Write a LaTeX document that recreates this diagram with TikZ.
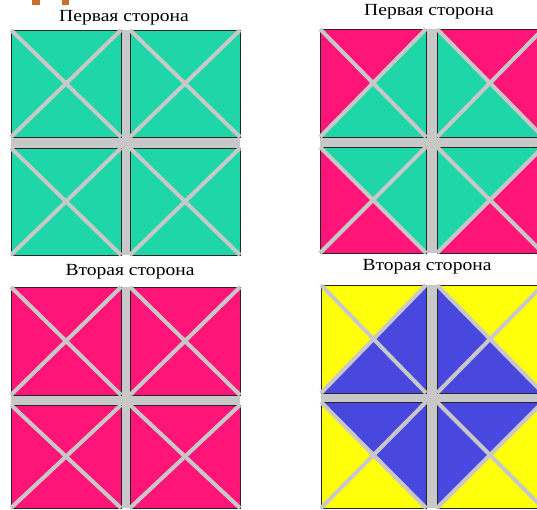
\documentclass[tikz,border=0pt]{standalone}
\usepackage{fontspec}
\setmainfont{Liberation Serif}
\usetikzlibrary{calc}
\definecolor{greenc}{RGB}{30,214,168}
\definecolor{pinkc}{RGB}{255,20,120}
\definecolor{yellowc}{RGB}{255,255,10}
\definecolor{bluec}{RGB}{72,72,222}
\definecolor{barc}{RGB}{200,200,200}
\definecolor{orangec}{RGB}{205,110,40}
\tikzset{
  diag/.style={draw=barc,line width=4pt},
  edge/.style={draw=black!85,line width=1pt},
  lbl/.style={font=\fontsize{17}{19}\selectfont,inner sep=0pt,anchor=center,xscale=1.15}
}
% small square: x0 y0 x1 y1 top right bottom left
\newcommand\smallsq[8]{%
  \coordinate (c) at ({(#1+#3)/2},{(#2+#4)/2});
  \fill[#5] (#1,#2) -- (#3,#2) -- (c) -- cycle;
  \fill[#6] (#3,#2) -- (#3,#4) -- (c) -- cycle;
  \fill[#7] (#3,#4) -- (#1,#4) -- (c) -- cycle;
  \fill[#8] (#1,#4) -- (#1,#2) -- (c) -- cycle;
  \draw[edge] (#1,#2) rectangle (#3,#4);
}
\newcommand\smalldiag[4]{%
  \draw[diag] (#1,#2) -- (#3,#4) (#3,#2) -- (#1,#4);
}
% panel: x0 xa xb x1 y0 ya yb y1 ; colours cA (corners), cB (diamond)
\newcommand\quadpanel[8]{%
  \fill[barc] (#1,#5) rectangle (#4,#8);
  \smallsq{#1}{#5}{#2}{#6}{cA}{cB}{cB}{cA}
  \smallsq{#3}{#5}{#4}{#6}{cA}{cA}{cB}{cB}
  \smallsq{#1}{#7}{#2}{#8}{cB}{cB}{cA}{cA}
  \smallsq{#3}{#7}{#4}{#8}{cB}{cA}{cA}{cB}
  \smalldiag{#1}{#5}{#2}{#6}
  \smalldiag{#3}{#5}{#4}{#6}
  \smalldiag{#1}{#7}{#2}{#8}
  \smalldiag{#3}{#7}{#4}{#8}
}
\begin{document}
\begin{tikzpicture}[x=1pt,y=-1pt]
\useasboundingbox (0,0) rectangle (537,509);
\clip (0,0) rectangle (537,509);
\fill[white] (0,0) rectangle (537,509);
% orange fragments at top
\fill[orangec] (32,0) rectangle (40,5);
\fill[orangec] (62,0) rectangle (69,5);
% labels
\node[lbl] (l1) at (124,18) {Первая сторона};
\node[lbl] (l2) at (429,12) {Первая сторона};
\node[lbl] (l3) at (130,272) {Вторая сторона};
\node[lbl] (l4) at (427,267) {Вторая сторона};
% panels
\colorlet{cA}{greenc}\colorlet{cB}{greenc}
\quadpanel{11}{121}{130}{240}{30}{137}{148}{255}
\colorlet{cA}{pinkc}\colorlet{cB}{greenc}
\quadpanel{320}{426}{437}{543}{29}{137}{147}{253}
\colorlet{cA}{pinkc}\colorlet{cB}{pinkc}
\quadpanel{11}{121}{130}{240}{287}{395}{405}{508}
\colorlet{cA}{yellowc}\colorlet{cB}{bluec}
\quadpanel{321}{426}{437}{543}{285}{393}{402}{508}
\end{tikzpicture}
\end{document}
